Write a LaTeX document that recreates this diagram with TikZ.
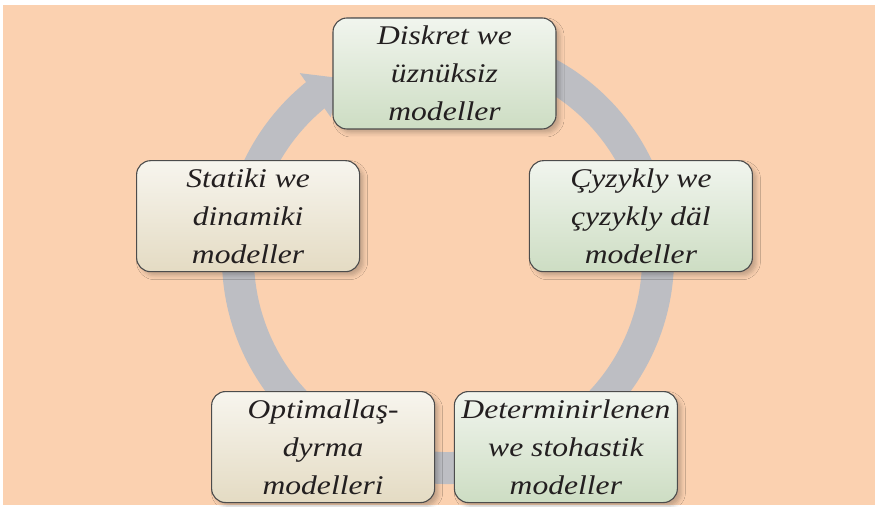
\documentclass[tikz,border=0pt]{standalone}
\usepackage{fontspec}
\setmainfont{Liberation Serif}[FakeStretch=1.17]
\usetikzlibrary{arrows.meta, bending, calc, shadows.blur}

\definecolor{peach}{RGB}{251,209,176}
\definecolor{ringgray}{RGB}{189,190,195}
\definecolor{greentop}{RGB}{241,245,238}
\definecolor{greenbot}{RGB}{205,221,195}
\definecolor{beigetop}{RGB}{247,245,238}
\definecolor{beigebot}{RGB}{228,219,195}
\definecolor{textgray}{RGB}{35,31,32}

\tikzset{
  model/.style={draw=black!70, line width=1.1pt, rounded corners=14pt,
    minimum width=223pt, minimum height=111pt, inner sep=2pt, align=center,
    text=textgray, font=\itshape\fontsize{27}{38}\selectfont,
    blur shadow={shadow xshift=4pt, shadow yshift=-4pt, shadow opacity=22,
      shadow blur radius=4pt}},
  greenfill/.style={top color=greentop, bottom color=greenbot},
  beigefill/.style={top color=beigetop, bottom color=beigebot},
  ring/.style={line width=32pt, draw=ringgray,
    -{Triangle[length=30pt, width=52pt]}}
}

\begin{document}
\begin{tikzpicture}[x=1pt, y=1pt]
    \useasboundingbox (0,0) rectangle (875,506);
    \fill[peach] (3,1) rectangle (875,501);

    % centres
    \coordinate (hub) at (444.5,226);
    \coordinate (ringc) at (448,248);

    % cycle arrow
    \draw[ring] (ringc) ++(70:210) arc[start angle=70, end angle=-239, radius=210];

    % Models
    \node (Diskret) [model, greenfill] at ($(hub)+(90:206.5)$)
        {Diskret we\\üznüksiz\\modeller};
    \node (Cyzykly) [model, greenfill] at ($(hub)+(18:206.5)$)
        {Çyzykly we\\çyzykly däl\\modeller};
    \node (Determ) [model, greenfill] at ($(hub)+(-54:206.5)$)
        {Determinirlenen\\we stohastik\\modeller};
    \node (Optim) [model, beigefill] at ($(hub)+(-126:206.5)$)
        {Optimallaş-\\dyrma\\modelleri};
    \node (Statiki) [model, beigefill] at ($(hub)+(162:206.5)$)
        {Statiki we\\dinamiki\\modeller};
\end{tikzpicture}
\end{document}
